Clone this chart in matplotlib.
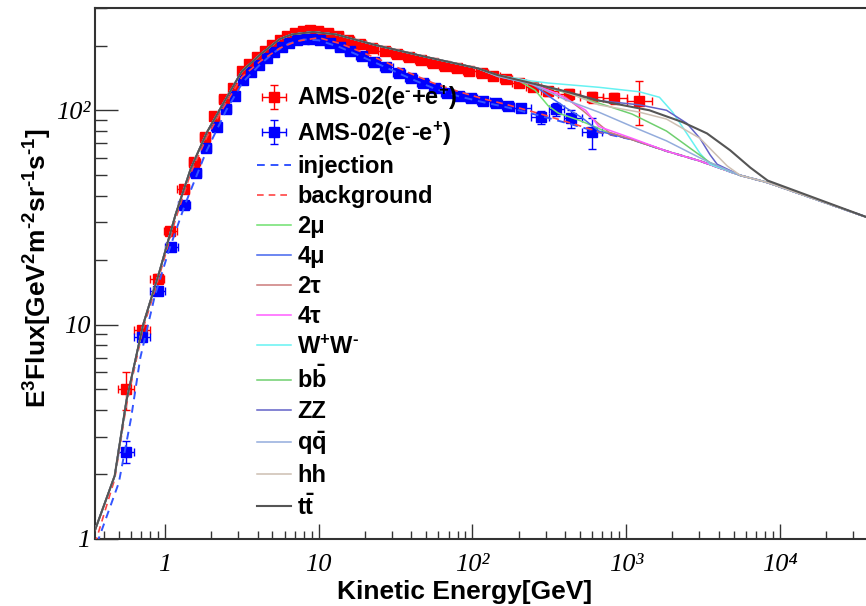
import numpy as np
import matplotlib
matplotlib.use('Agg')
import matplotlib.pyplot as plt
from matplotlib.ticker import FixedLocator, LogLocator, NullFormatter

plt.rcParams['font.family'] = ['Liberation Sans', 'DejaVu Sans']
plt.rcParams['font.weight'] = 'bold'
plt.rcParams['mathtext.fontset'] = 'custom'
plt.rcParams['mathtext.rm'] = 'Liberation Sans:bold'
plt.rcParams['mathtext.it'] = 'Liberation Sans:bold'
plt.rcParams['mathtext.bf'] = 'Liberation Sans:bold'
plt.rcParams['mathtext.default'] = 'rm'

# AMS-02 electron + positron (E^3 flux)
red_e = [0.56, 0.71, 0.90, 1.07, 1.33, 1.55, 1.82, 2.09, 2.41, 2.78, 3.16, 3.54, 3.97,
         4.45, 4.98, 5.58, 6.26, 7.0, 7.85, 8.8, 9.9, 11.5, 13.3, 15.5, 18.6, 22.3, 26.8,
         32.1, 38.5, 46.2, 55.4, 66.4, 79.6, 95.5, 115, 137, 165, 201, 248, 311, 422,
         597, 834, 1219]
red_f = [5.0, 9.4, 16.4, 27.4, 42.8, 57.6, 75.3, 93.7, 113, 127, 152, 164, 177,
         189, 201, 212, 222, 229, 234, 236, 234, 229, 222, 212, 203, 196, 190,
         184, 178, 172, 166, 161, 157, 153, 149, 145, 140, 134, 128, 123, 119,
         115, 114, 111]
red_err = [1.0, 0.5, 0.8, 1.0, 1.3, 1.6, 2.0, 2.4, 2.8, 3.0, 3.5, 3.5, 3.5,
           3.5, 3.5, 3.5, 3.5, 3.5, 3.5, 3.5, 3.5, 3.5, 3.5, 3.5, 3.5, 3.5, 3.5,
           3.5, 3.5, 3.5, 3.5, 3.5, 3.5, 3.5, 3.5, 3.5, 4, 4, 5, 6, 7,
           7, 7, 26]

# AMS-02 electron (E^3 flux)
blue_e = [0.56, 0.71, 0.90, 1.10, 1.33, 1.58, 1.85, 2.17, 2.50, 2.86, 3.22, 3.65, 4.08,
          4.58, 5.1, 5.74, 6.4, 7.2, 8.07, 9.0, 10.15, 11.8, 13.7, 16.0, 19.2, 23.0,
          27.6, 33.1, 39.7, 47.6, 57, 68.4, 82, 98.5, 118, 142, 170, 207, 280, 351,
          441, 597]
blue_f = [2.55, 8.8, 14.4, 23.1, 36.3, 50.9, 66.4, 83.4, 101, 116, 138, 151, 162,
          175, 187, 197, 206, 212, 215, 215, 212, 206, 197, 189, 179, 168,
          159, 149, 141, 134, 127, 121, 117, 114, 110, 108, 105, 102, 92.7, 101,
          91.8, 78.9]
blue_err = [0.3, 0.4, 0.6, 0.8, 1.1, 1.4, 1.8, 2.2, 2.6, 3.0, 3.4, 3.5, 3.5,
            3.5, 3.5, 3.5, 3.5, 3.5, 3.5, 3.5, 3.5, 3.5, 3.5, 3.5, 3.5, 3.5,
            3.5, 3.5, 3.5, 3.5, 3.5, 3.5, 3.5, 3.5, 3.5, 3.5, 3.5, 4, 6, 7,
            9, 13]

# injection and background
inj_e = [0.36, 0.50, 0.60, 0.69, 0.855, 1.06, 1.35, 1.85, 2.5, 3.2, 4.1, 5.1, 6.4, 8.0,
         10, 13.7, 19, 27.6, 40, 57, 82, 118, 170, 280, 440, 664, 1094, 1832, 3023,
         5536, 8337, 37300]
inj_f = [0.95, 1.83, 3.64, 7.0, 13.5, 22.2, 36.4, 64, 100, 135, 162, 186, 205, 214,
         212, 197, 178, 158, 140, 126, 116, 109, 103, 94, 86, 79, 73, 64.5, 58,
         49.7, 46, 31.6]
bkg_e = [0.35, 0.47, 0.56, 0.72, 0.92, 1.17, 1.47, 1.87, 2.38, 3.16, 4.2, 5.58, 7.2, 10,
         13.7, 19, 27.6, 40, 57, 82, 118, 170, 280, 440, 664, 1094, 1832, 3023, 5536,
         8337, 37300]
bkg_f = [0.95, 1.9, 4.2, 9.6, 17, 31, 51, 75, 102, 143, 170, 195, 210, 218,
         205, 187, 167, 148, 133, 122, 113, 106, 96, 87, 79.5, 73, 64.5, 58, 49.7,
         46, 31.6]

# total spectrum shared by all channels below ~100 GeV
common_e = [0.35, 0.47, 0.56, 0.72, 0.92, 1.17, 1.47, 1.87, 2.38, 3.16, 4.2, 5.58, 6.7,
            9.2, 12.9, 23.7, 50.6, 108]
common_f = [1.1, 1.97, 4.4, 10.0, 17.7, 32.6, 53.5, 78.8, 107, 152, 183, 215, 226,
            232, 226, 201, 177, 157]

# high energy part of each channel
tails = {
    '2mu':  ([146, 198, 256, 311, 362, 491, 597, 738], [144, 138, 124, 105, 97, 90, 85, 79.5]),
    '4mu':  ([146, 198, 241, 311, 403, 520, 664], [144, 137, 134, 117, 103, 92, 80]),
    '2tau': ([146, 241, 311, 403, 520, 597, 773], [145, 132, 124, 115, 100, 92, 79]),
    '4tau': ([146, 241, 362, 546, 664, 1094], [145, 133, 119, 100, 84, 74]),
    'WW':   ([146, 241, 311, 664, 1219, 1648, 2008, 2482, 3023, 3518],
             [146, 137, 134, 128, 122, 115, 98, 78, 63, 56]),
    'bb':   ([146, 241, 403, 664, 1094, 1832, 3518], [145, 134, 121, 108, 96, 80, 57]),
    'ZZ':   ([146, 241, 403, 664, 1219, 1832, 2482, 3023, 3518, 3911],
             [145, 134, 122, 111, 106, 100, 87, 74, 62, 56]),
    'qq':   ([146, 241, 403, 664, 1094, 1832, 3023, 3518], [144, 133, 112, 98, 84, 72, 60, 57]),
    'hh':   ([146, 241, 403, 664, 1219, 1832, 3023, 4548], [145, 135, 122, 106, 98, 91, 74, 55]),
    'tt':   ([146, 230, 379, 664, 1417, 2336, 3360, 4763, 6435, 8337],
             [146, 135, 124, 111, 100, 88, 78, 65, 54, 47]),
}
bg_tail_e = [664, 1094, 1832, 3023, 5536, 8337, 37300]
bg_tail_f = [79, 73, 64.5, 58, 49.7, 46, 31.6]

channels = ['2mu', '4mu', '2tau', '4tau', 'WW', 'bb', 'ZZ', 'qq', 'hh', 'tt']
labels = ['2\u03bc', '4\u03bc', '2\u03c4', '4\u03c4', 'W$^{+}$W$^{\\text{-}}$',
          'b$\\bar{\\mathrm{b}}$', 'ZZ', 'q$\\bar{\\mathrm{q}}$', 'hh',
          't$\\bar{\\mathrm{t}}$']
colors = ['#6fe06f', '#4466ee', '#cc7a7a', '#ff5cff', '#66f2f2', '#6fcf6f',
          '#6262c8', '#93acdc', '#cdbfb2', '#555555']


def bin_err(e):
    le = np.log10(e)
    mid = (le[1:] + le[:-1]) / 2
    lo = np.concatenate([[2 * le[0] - mid[0]], mid])
    hi = np.concatenate([mid, [2 * le[-1] - mid[-1]]])
    e = np.asarray(e)
    return [e - 10 ** lo, 10 ** hi - e]


fig = plt.figure(figsize=(8.66, 6.06), dpi=100)
ax = fig.add_axes([0.1097, 0.1106, 0.8903, 0.8762])
ax.set_xscale('log')
ax.set_yscale('log')

h_red = ax.errorbar(red_e, red_f, xerr=bin_err(red_e), yerr=red_err, fmt='s', color='#ff0000',
                    ms=6.5, elinewidth=1, capsize=3, capthick=1, zorder=2)
h_blue = ax.errorbar(blue_e, blue_f, xerr=bin_err(blue_e), yerr=blue_err, fmt='s', color='#0000ff',
                     ms=6.5, elinewidth=1, capsize=3, capthick=1, zorder=2)

h_inj, = ax.plot(inj_e, inj_f, color='#3355ff', lw=1.4, ls=(0, (4, 3)), zorder=3)
h_bkg, = ax.plot(bkg_e, bkg_f, color='#ff4444', lw=1.2, ls=(0, (4, 3)), zorder=3)

handles = [h_red, h_blue, h_inj, h_bkg]
for ch, col in zip(channels, colors):
    te, tf = tails[ch]
    ext = [i for i, x in enumerate(bg_tail_e) if x > te[-1]]
    e = common_e + te + [bg_tail_e[i] for i in ext]
    f = common_f + tf + [bg_tail_f[i] for i in ext]
    lw = 1.5 if ch == 'tt' else 1.1
    h, = ax.plot(e, f, color=col, lw=lw, zorder=4)
    handles.append(h)

ax.set_xlim(0.35, 36400)
ax.set_ylim(1, 300)

tick_font = dict(family=['Liberation Serif', 'DejaVu Serif'], style='italic',
                 weight='normal', size=19)
ax.xaxis.set_major_locator(FixedLocator([1, 10, 100, 1e3, 1e4]))
ax.xaxis.set_minor_locator(LogLocator(subs=np.arange(2, 10), numticks=20))
ax.xaxis.set_minor_formatter(NullFormatter())
ax.set_xticklabels(['1', '10', '10\u00b2', '10\u00b3', '10\u2074'], fontdict=tick_font)
ax.yaxis.set_major_locator(FixedLocator([1, 10, 100]))
ax.yaxis.set_minor_locator(LogLocator(subs=np.arange(2, 10), numticks=20))
ax.yaxis.set_minor_formatter(NullFormatter())
ax.set_yticklabels(['1', '10', '10\u00b2'], fontdict=tick_font)

ax.tick_params(which='both', direction='in', top=False, right=False, width=1, color='#333333')
ax.tick_params(axis='x', which='major', length=11, pad=10.5)
ax.tick_params(axis='x', which='minor', length=6)
ax.tick_params(axis='y', which='major', length=16.5, pad=3.5)
ax.tick_params(axis='y', which='minor', length=8.5)
for s in ['top', 'left', 'bottom']:
    ax.spines[s].set_linewidth(1.5)
    ax.spines[s].set_color('#333333')
ax.spines['right'].set_visible(False)

fig.text(465 / 866, 1 - 592 / 606, 'Kinetic Energy[GeV]', ha='center', va='center',
         fontsize=19, fontweight='bold')
fig.text(38 / 866, 1 - 268 / 606,
         'E$^{3}$Flux[GeV$^{2}$m$^{\\text{-}2}$sr$^{\\text{-}1}$s$^{\\text{-}1}$]',
         ha='center', va='center', rotation=90, fontsize=19, fontweight='bold')

leg_labels = ['AMS-02(e$^{\\text{-}}$+e$^{+}$)', 'AMS-02(e$^{\\text{-}}$-e$^{+}$)',
              'injection', 'background'] + labels
ax.legend(handles, leg_labels, loc='upper left', bbox_to_anchor=(257 / 866, 1 - 84 / 606),
          bbox_transform=fig.transFigure, frameon=False, fontsize=17, handlelength=1.45,
          handletextpad=0.25, labelspacing=0.30, borderpad=0, borderaxespad=0)

fig.savefig('out.png', dpi=100)
